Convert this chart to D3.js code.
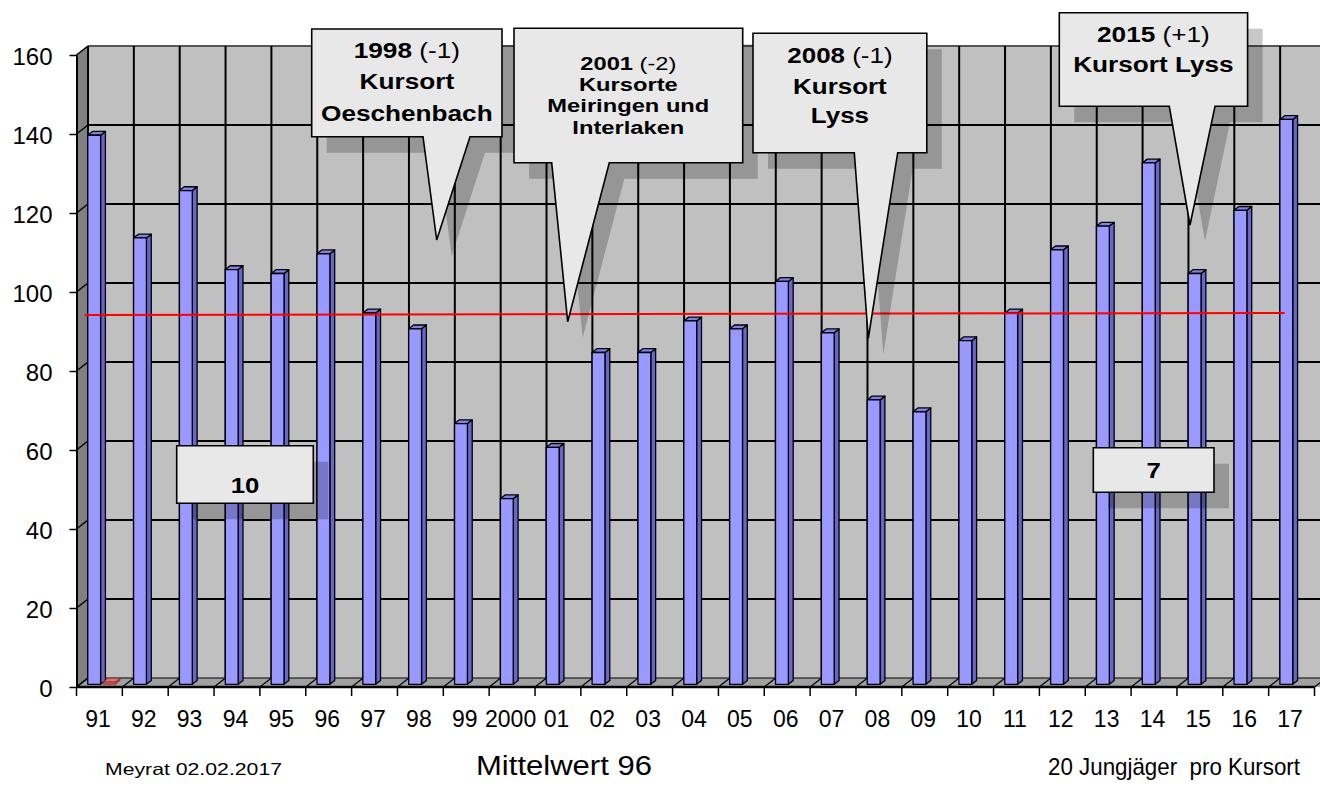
<!DOCTYPE html>
<html>
<head>
<meta charset="utf-8">
<script src="https://cdn.jsdelivr.net/npm/d3@7"></script>
<style>
  body { margin: 0; background: #fff; }
  svg { display: block; font-family: Arial, "Liberation Sans", sans-serif; }
</style>
</head>
<body>
<svg id="chart" width="1320" height="789"></svg>
<script>
// chart data
var years = ["91","92","93","94","95","96","97","98","99","2000","01","02","03","04",
             "05","06","07","08","09","10","11","12","13","14","15","16","17"];
var jungjaeger = [139,113,125,105,104,109,94,90,66,47,60,84,84,92,
                  90,102,89,72,69,87,94,110,116,132,104,120,143];
// second (red) series, only visible as a tiny block at 91
var redSeries = [0.6,0,0,0,0,0,0,0,0,0,0,0,0,0,0,0,0,0,0,0,0,0,0,0,0,0,0];
// red "Mittelwert" line, start and end value
var meanLine = [94.2, 94.7];
var yTicks = [0,20,40,60,80,100,120,140,160];

// callout texts: first line = [bold, normal]
var calloutTexts = [
  [["1998", " (-1)"], "Kursort", "Oeschenbach"],
  [["2001", " (-2)"], "Kursorte", "Meiringen und", "Interlaken"],
  [["2008", " (-1)"], "Kursort", "Lyss"],
  [["2015", " (+1)"], "Kursort Lyss"],
  ["10"],
  ["7"]
];
var footNotes = ["Meyrat 02.02.2017", "Mittelwert 96", "20 Jungjäger  pro Kursort"];

// layout of the callouts (box, tail base left/right + tip, font size, x stretch, baselines)
var calloutLayout = [
  {box:[311.7,29,502,136.7], tail:[423,470,436.7,240], size:22, sx:1.19, base:[58.3,89.3,120.7]},
  {box:[514,28.3,742.7,162.7], tail:[551.7,609.3,567.7,321.7], size:18.7, sx:1.268, base:[70.5,91,112,134]},
  {box:[753,33.3,926.8,152.7], tail:[854.3,897.7,868.3,338.3], size:22, sx:1.18, base:[63.3,94.3,123.3]},
  {box:[1059.3,12.7,1247.6,106.3], tail:[1169.3,1215,1190,225], size:22, sx:1.19, base:[41.7,71.7]},
  {box:[176.7,445.7,313.3,503.3], tail:null, size:22, sx:1.17, base:[492.7]},
  {box:[1093.3,447.7,1214,492.3], tail:null, size:22, sx:1.17, base:[478.3]}
];
var footLayout = [
  {x:105, len:177, size:16.5},
  {x:476, len:176, size:27},
  {x:1048, len:252, size:24}
];

var svg = d3.select("#chart");
var W = 1320;

var x = d3.scaleBand().domain(years).range([76.5, 1314.5]);
var y = d3.scaleLinear().domain([0, 160]).range([687, 55]);
var bw = x.bandwidth();

// 3d depth of the chart
var dx = 11.5, dy = -9;
var d0 = 0.3, d1 = 0.72;   // bar depth (fraction of full depth)

var x0 = x.range()[0];
var xEnd = x.range()[1];

// ---- walls ----
var walls = svg.append("g");
walls.append("rect")
    .attr("x", x0 + dx).attr("y", y(160) + dy)
    .attr("width", W - x0 - dx + 20).attr("height", y(0) - y(160))
    .attr("fill", "#c0c0c0");
walls.append("path")
    .attr("d", "M" + x0 + "," + y(0) + " L" + x0 + "," + y(160) +
               " L" + (x0 + dx) + "," + (y(160) + dy) + " L" + (x0 + dx) + "," + (y(0) + dy) + " Z")
    .attr("fill", "#808080").attr("stroke", "#404040").attr("stroke-width", 1);
walls.append("path")
    .attr("d", "M" + x0 + "," + y(0) + " L" + (x0 + dx) + "," + (y(0) + dy) +
               " L" + (W + 20) + "," + (y(0) + dy) + " L" + (W + 20) + "," + y(0) + " Z")
    .attr("fill", "#a0a0a0");

// horizontal grid on back wall + left wall diagonals
walls.selectAll("line.hgrid")
    .data(yTicks)
  .enter().append("line")
    .attr("class", "hgrid")
    .attr("x1", x0 + dx).attr("x2", W + 20)
    .attr("y1", function(d) { return y(d) + dy; })
    .attr("y2", function(d) { return y(d) + dy; })
    .attr("stroke", function(d) { return d == 160 ? "#555" : "#000"; })
    .attr("stroke-width", function(d) { return d == 0 ? 1 : 2; });
walls.selectAll("line.wgrid")
    .data(yTicks)
  .enter().append("line")
    .attr("class", "wgrid")
    .attr("x1", x0).attr("x2", x0 + dx)
    .attr("y1", function(d) { return y(d); })
    .attr("y2", function(d) { return y(d) + dy; })
    .attr("stroke", "#000").attr("stroke-width", 1.5);

// vertical grid on back wall + floor diagonals
var bounds = d3.range(years.length + 1).map(function(i) { return x0 + i * bw; });
walls.selectAll("line.vgrid")
    .data(bounds)
  .enter().append("line")
    .attr("class", "vgrid")
    .attr("x1", function(d) { return d + dx; })
    .attr("x2", function(d) { return d + dx; })
    .attr("y1", y(160) + dy).attr("y2", y(0) + dy)
    .attr("stroke", "#000").attr("stroke-width", 2);
walls.selectAll("line.fgrid")
    .data(bounds)
  .enter().append("line")
    .attr("class", "fgrid")
    .attr("x1", function(d) { return d; })
    .attr("x2", function(d) { return d + dx; })
    .attr("y1", y(0)).attr("y2", y(0) + dy)
    .attr("stroke", "#000").attr("stroke-width", 1.2);

// ---- 3d bars ----
function bar3d(g, xl, w, v, cols) {
  var fx = xl + dx * d0, fy = dy * d0;
  var ox = dx * (d1 - d0), oy = dy * (d1 - d0);
  var top = y(v) + fy, bot = y(0) + fy;
  g.append("path")   // side
      .attr("d", "M" + (fx + w) + "," + bot + " L" + (fx + w) + "," + top +
                 " L" + (fx + w + ox) + "," + (top + oy) + " L" + (fx + w + ox) + "," + (bot + oy) + " Z")
      .attr("fill", cols[1]);
  g.append("path")   // top
      .attr("d", "M" + fx + "," + top + " L" + (fx + w) + "," + top +
                 " L" + (fx + w + ox) + "," + (top + oy) + " L" + (fx + ox) + "," + (top + oy) + " Z")
      .attr("fill", cols[2]);
  g.append("rect")   // front
      .attr("x", fx).attr("y", top)
      .attr("width", w).attr("height", bot - top)
      .attr("fill", cols[0]);
}

var bars = svg.append("g")
    .attr("stroke", "#000").attr("stroke-width", 1.3).attr("stroke-linejoin", "round");
jungjaeger.forEach(function(v, i) {
  bar3d(bars.append("g"), x(years[i]) + bw * 0.17, bw * 0.28, v,
        ["#9999ff", "#6666cc", "#8080e6"]);
});
var reds = svg.append("g")
    .attr("stroke", "#8a3030").attr("stroke-width", 0.6);
redSeries.forEach(function(v, i) {
  if (v > 0) {
    bar3d(reds.append("g"), x(years[i]) + bw * 0.508, bw * 0.26, v,
          ["#cc4c4c", "#993838", "#e07070"]);
  }
});

// ---- axes ----
var yAxis = svg.append("g")
    .attr("transform", "translate(" + x0 + ",0)")
    .call(d3.axisLeft(y).tickValues(yTicks).tickSize(7).tickSizeOuter(0).tickPadding(17));
yAxis.select(".domain").attr("stroke", "#000").attr("stroke-width", 2);
yAxis.selectAll(".tick line").attr("stroke", "#000").attr("stroke-width", 1.5);
yAxis.selectAll(".tick text")
    .attr("font-size", 24).attr("font-family", "Arial, 'Liberation Sans', sans-serif")
    .attr("fill", "#000").attr("dy", "0.4em");

svg.append("line")
    .attr("x1", x0).attr("x2", xEnd)
    .attr("y1", y(0)).attr("y2", y(0))
    .attr("stroke", "#000").attr("stroke-width", 2.5);
svg.selectAll("line.xtick")
    .data(bounds)
  .enter().append("line")
    .attr("class", "xtick")
    .attr("x1", function(d) { return d; })
    .attr("x2", function(d) { return d; })
    .attr("y1", y(0)).attr("y2", y(0) + 9)
    .attr("stroke", "#000").attr("stroke-width", 1.5);

var xAxis = svg.append("g")
    .attr("transform", "translate(-1.5," + y(0) + ")")
    .call(d3.axisBottom(x).tickSize(0).tickPadding(24));
xAxis.select(".domain").remove();
xAxis.selectAll(".tick text")
    .attr("font-size", 23).attr("font-family", "Arial, 'Liberation Sans', sans-serif")
    .attr("fill", "#000");

// ---- red mean line ----
var lineX = [x(years[0]) + 8, x(years[years.length - 1]) + 16];
svg.append("path")
    .datum(meanLine)
    .attr("d", d3.line()
        .x(function(d, i) { return lineX[i]; })
        .y(function(d) { return y(d); }))
    .attr("fill", "none").attr("stroke", "#ff0000").attr("stroke-width", 2);

// ---- callouts ----
function calloutPath(l) {
  var b = l.box, t = l.tail;
  var p = "M" + b[0] + "," + b[1] + " H" + b[2] + " V" + b[3];
  if (t) p += " H" + t[1] + " L" + t[2] + "," + t[3] + " L" + t[0] + "," + b[3];
  return p + " H" + b[0] + " Z";
}

calloutLayout.forEach(function(l, k) {
  var g = svg.append("g");
  g.append("path")
      .attr("d", calloutPath(l))
      .attr("transform", "translate(15,16)")
      .attr("fill", "rgba(0,0,0,0.22)");
  g.append("path")
      .attr("d", calloutPath(l))
      .attr("fill", "#e8e8e8").attr("stroke", "#000").attr("stroke-width", 1.6);
  var cx = (l.box[0] + l.box[2]) / 2;
  var tg = g.append("g").attr("transform", "translate(" + cx + ",0) scale(" + l.sx + ",1)");
  calloutTexts[k].forEach(function(line, j) {
    var t = tg.append("text")
        .attr("x", 0).attr("y", l.base[j])
        .attr("text-anchor", "middle")
        .attr("font-size", l.size)
        .attr("font-weight", "bold")
        .style("white-space", "pre");
    if (Array.isArray(line)) {
      t.append("tspan").text(line[0]);
      t.append("tspan").attr("font-weight", "normal").text(line[1]);
    } else {
      t.text(line);
    }
  });
});

// ---- foot notes ----
svg.selectAll("text.foot")
    .data(footNotes)
  .enter().append("text")
    .attr("class", "foot")
    .attr("x", function(d, i) { return footLayout[i].x; })
    .attr("y", 775)
    .attr("font-size", function(d, i) { return footLayout[i].size; })
    .attr("textLength", function(d, i) { return footLayout[i].len; })
    .attr("lengthAdjust", "spacingAndGlyphs")
    .style("white-space", "pre")
    .text(function(d) { return d; });
</script>
</body>
</html>
